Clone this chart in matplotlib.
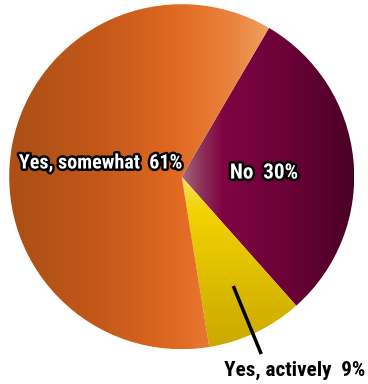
import matplotlib
matplotlib.use("Agg")
import matplotlib.pyplot as plt
import matplotlib.patheffects as pe
from matplotlib import font_manager
import numpy as np
from matplotlib.colors import LinearSegmentedColormap

labels = ["No", "Yes, actively", "Yes, somewhat"]
values = [30, 9, 61]
label_texts = ["No  30%", "Yes, actively  9%", "Yes, somewhat  61%"]

# pick a bold condensed font if one is installed
def pick_font():
    best = None
    for f in font_manager.fontManager.ttflist:
        n = f.name.lower(); fn = f.fname.lower()
        cond = ("narrow" in n or "condensed" in n or "narrow" in fn or
                "condensed" in fn or str(f.stretch) in ("condensed", "semi-condensed",
                                                         "extra-condensed", "ultra-condensed"))
        bold = (f.weight in ("bold", 700, "700") or "bold" in fn)
        if not cond or not bold or "oblique" in fn or "italic" in fn:
            continue
        if "liberation" in n or "liberation" in fn:
            pr = 0
        elif "roboto" in n or "roboto" in fn:
            pr = 1
        elif "dejavu" in n or "dejavu" in fn:
            pr = 2
        else:
            pr = 3
        if best is None or pr < best[0]:
            best = (pr, f.fname)
    if best is None:
        return font_manager.FontProperties(family="DejaVu Sans", weight="bold")
    return font_manager.FontProperties(fname=best[1])

FP = pick_font()

W, H = 368, 384
fig = plt.figure(figsize=(W/100, H/100), dpi=100)
cx, cy, R = 181.7, 176.7, 172.5
ax = fig.add_axes([(cx-R)/W, (H-cy-R)/H, 2*R/W, 2*R/H])
ax.set_xlim(-1, 1); ax.set_ylim(-1, 1); ax.axis("off")

wedges, _ = ax.pie(values, startangle=59.6, counterclock=False, radius=1,
                   colors=["#7a0040", "#eccb10", "#d9641f"],
                   wedgeprops=dict(linewidth=0))

def px2x(px): return (px - cx) / R

grads = {
    0: ("h", [(px2x(182), "#a46a7c"), (px2x(198), "#8e3a5e"), (px2x(222), "#800444"),
              (px2x(290), "#690236"), (px2x(354), "#4a0024")]),
    1: ("v", [(-1.0, "#cba800"), (-0.5, "#e2c300"), (-0.2, "#f2d300"), (0.0, "#f8e068")]),
    2: ("h", [(-1.0, "#ab4f15"), (px2x(100), "#c4581a"), (px2x(180), "#e26a22"),
              (px2x(235), "#ea8440"), (px2x(270), "#f0a062")]),
}

for i, w in enumerate(wedges):
    kind, stops = grads[i]
    lo, hi = stops[0][0], stops[-1][0]
    cmap = LinearSegmentedColormap.from_list(
        f"g{i}", [((p - lo) / (hi - lo), c) for p, c in stops])
    t = np.linspace(0, 1, 400)
    if kind == "h":
        img = t[None, :]; ext = [lo, hi, -1, 1]
    else:
        img = t[:, None]; ext = [-1, 1, lo, hi]
    im = ax.imshow(img, cmap=cmap, extent=ext, origin="lower", aspect="auto",
                   interpolation="bilinear", zorder=2)
    im.set_clip_path(w)
    w.set_facecolor("none")

ax.set_xlim(-1, 1); ax.set_ylim(-1, 1)

stroke = [pe.withStroke(linewidth=3.5, foreground="black")]
t1 = ax.text(0.0075, 0.079, label_texts[2], ha="right", va="center", fontsize=13,
             color="white", fontproperties=FP, path_effects=stroke, zorder=5)
t2 = ax.text(0.477, 0.021, label_texts[0], ha="center", va="center", fontsize=13,
             color="white", fontproperties=FP, path_effects=stroke, zorder=5)
t3 = ax.text(0.245, -1.121, label_texts[1], ha="left", va="center", fontsize=14,
             color="black", fontproperties=FP, clip_on=False, zorder=5)
ax.plot([0.299, 0.461], [-0.634, -1.028], color="black", lw=2.5,
        solid_capstyle="butt", clip_on=False, zorder=5)

# fit font sizes to the widths seen in the reference
r = fig.canvas.get_renderer()
for t, target, cap in [(t1, 163, 16), (t2, 68, 16), (t3, 142, 17)]:
    t.set_path_effects([])
    wd = t.get_window_extent(r).width
    t.set_fontsize(min(t.get_fontsize() * target / wd, cap))
t1.set_path_effects(stroke); t2.set_path_effects(stroke)

fig.savefig("out.png", dpi=100)
